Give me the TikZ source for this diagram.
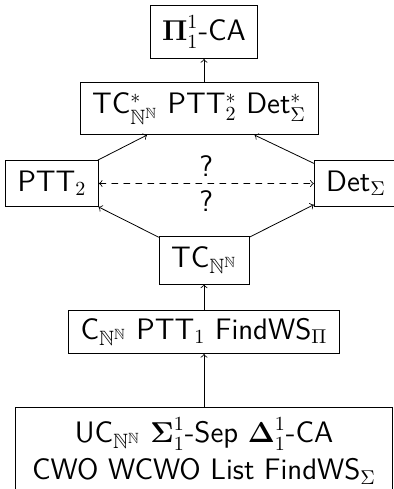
\documentclass[tikz,border=0pt]{standalone}
\usepackage{amsmath,amssymb}

\newcommand{\NNN}{\mathbb{N}^{\mathbb{N}}}

\begin{document}
\begin{tikzpicture}[x=0.5pt, y=-0.5pt,
                    >=to, line cap=round,
                    box/.style={draw, font=\fontsize{14.8}{18.5}\selectfont\sffamily,
                                inner xsep=6pt, inner ysep=5.3pt, align=center},
                    qmark/.style={font=\fontsize{14.8}{18.5}\selectfont\sffamily}
                   ]

    \useasboundingbox (0,0) rectangle (394,489);

    % main column at x=204
    \node [box] (pi)  at (204,32)    {$\boldsymbol{\Pi}^1_1$-CA};
    \node [box] (tcs) at (199,108.5) {TC$^*_{\NNN}$ PTT$^*_2$ Det$^*_\Sigma$};
    \node [box] (ptt) at (52,183.5)  {PTT$_2$};
    \node [box] (det) at (356,183.5) {Det$_\Sigma$};
    \node [box] (tcn) at (204,260)   {TC$_{\NNN}$};
    \node [box, inner ysep=4pt] (cwf) at (204,332)
        {C$_{\NNN}$ PTT$_1$ FindWS$_\Pi$};
    \node [box, inner xsep=8.5pt, anchor=north] (bot) at (204,407)
        {UC$_{\NNN}$ $\boldsymbol{\Sigma}^1_1$-Sep $\boldsymbol{\Delta}^1_1$-CA\\
         CWO WCWO List FindWS$_\Sigma$};

    \draw [->] (bot) -- (cwf);
    \draw [->] (cwf) -- (tcn);
    \draw [->] (tcn) -- (ptt);
    \draw [->] (tcn) -- (det);
    \draw [->] (ptt) -- (tcs);
    \draw [->] (det) -- (tcs);
    \draw [->] (tcs.north -| pi) -- (pi);

    \draw [<->, dashed] (ptt) -- (det)
        node [midway, above, qmark] {?}
        node [midway, below, qmark] {?};

\end{tikzpicture}
\end{document}
